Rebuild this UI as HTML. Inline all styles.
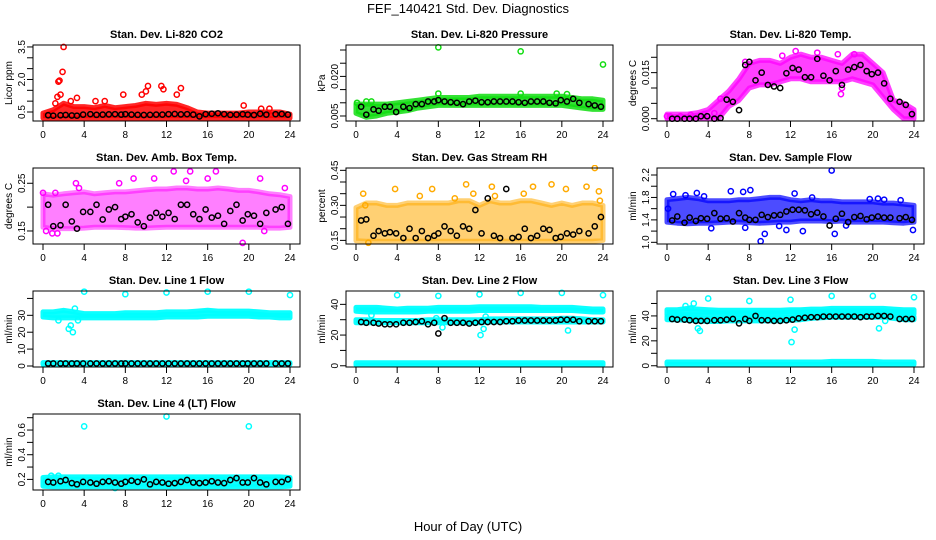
<!DOCTYPE html>
<html><head><meta charset="utf-8"><style>
html,body{margin:0;padding:0;background:#fff;}
svg{display:block;font-family:"Liberation Sans",sans-serif;}
</style></head><body>
<svg id="chart" width="936" height="540" viewBox="0 0 936 540">
<text x="468" y="13" text-anchor="middle" font-size="13">FEF_140421  Std. Dev. Diagnostics</text>
<text x="468" y="531" text-anchor="middle" font-size="13">Hour of Day (UTC)</text>
</svg>
<script>
const envHours=[0,1,2,3,4,5,6,7,8,9,10,11,12,13,14,15,16,17,18,19,20,21,22,23,24];
const blkHours=[0.5,1,1.7,2.2,2.8,3.3,3.9,4.6,5.2,5.8,6.4,7,7.6,8,8.6,9.2,9.8,10.4,11,11.6,12.2,12.8,13.4,14,14.6,15.2,15.8,16.4,17,17.6,18.2,18.8,19.4,19.9,20.5,21.1,21.7,22.6,23.2,23.8];
const xTicks=[0,4,8,12,16,20,24];

const co2Lo=[0.22,0.22,0.22,0.22,0.22,0.22,0.22,0.22,0.22,0.22,0.22,0.22,0.22,0.22,0.22,0.22,0.22,0.22,0.22,0.22,0.22,0.22,0.22,0.22,0.22];
const co2Hi=[0.45,0.6,0.9,0.75,0.75,0.7,0.8,0.7,0.75,0.8,0.9,0.85,0.9,0.85,0.7,0.5,0.45,0.45,0.45,0.45,0.5,0.5,0.5,0.5,0.4];
const co2OutX=[1.2,1.5,1.6,1.9,2.0,1.4,1.7,3.3,7.8,9.6,10.0,10.2,11.5,11.7,13.0,13.4,19.5,21.2,22.0,2.7,5.1,6.0];
const co2OutY=[0.9,1.9,1.95,2.35,3.5,1.2,1.3,1.15,1.3,1.3,1.45,1.7,1.7,1.55,1.3,1.6,0.8,0.65,0.65,1.0,1.0,1.0];
const co2Blk=[0.35,0.33,0.35,0.36,0.34,0.33,0.38,0.40,0.37,0.38,0.39,0.40,0.38,0.40,0.38,0.37,0.36,0.37,0.38,0.38,0.40,0.41,0.39,0.40,0.38,0.30,0.40,0.42,0.44,0.40,0.37,0.38,0.40,0.38,0.36,0.42,0.38,0.40,0.41,0.38];

const presLo=[0.006,0.0045,0.005,0.006,0.0065,0.007,0.008,0.0085,0.009,0.009,0.009,0.009,0.009,0.009,0.009,0.009,0.009,0.009,0.009,0.009,0.009,0.0085,0.008,0.0075,0.0075];
const presHi=[0.0095,0.0095,0.0095,0.0095,0.010,0.0105,0.011,0.0115,0.012,0.012,0.012,0.012,0.0125,0.0125,0.0125,0.0125,0.0125,0.0125,0.0125,0.0125,0.0125,0.012,0.0115,0.0115,0.011];
const presOutX=[8,16,24,0.1,1,1.5,8,16,19.5,20.5];
const presOutY=[0.031,0.0295,0.0245,0.010,0.0105,0.0105,0.0135,0.0135,0.0135,0.0133];
const presBlk=[0.0085,0.0055,0.0075,0.007,0.0085,0.0085,0.0065,0.0085,0.008,0.0095,0.0095,0.0105,0.0105,0.011,0.0105,0.0102,0.010,0.0095,0.0105,0.0108,0.0102,0.0102,0.0105,0.0105,0.0105,0.0105,0.0102,0.0100,0.0105,0.0105,0.0105,0.0100,0.0098,0.0110,0.0105,0.0115,0.0100,0.0095,0.0090,0.0085];

const tempLo=[0,0,0,0,0,0,0.004,0.006,0.010,0.011,0.011,0.012,0.013,0.013,0.012,0.012,0.012,0.012,0.013,0.012,0.011,0.007,0.003,0,0];
const tempHi=[0.0015,0.0015,0.0015,0.002,0.003,0.006,0.009,0.013,0.018,0.019,0.019,0.018,0.020,0.021,0.020,0.020,0.019,0.018,0.021,0.021,0.018,0.015,0.006,0.005,0.003];
const tempOutX=[0,0.3,1.3,2.3,3.6,4.6,5.2,11.2,12.5,14.6,16.6,18.2,17,16.9,7.6];
const tempOutY=[0.0008,0.0008,0.0008,0.0012,0.0015,0.0018,0.0065,0.0205,0.022,0.0215,0.021,0.021,0.0100,0.0080,0.0185];
const tempBlk=[0,0,0,0,0,0.0008,0.0008,0,0.0002,0.0062,0.0055,0.0028,0.0175,0.0185,0.0125,0.0150,0.0110,0.0105,0.0100,0.0148,0.0165,0.0160,0.0135,0.0135,0.0195,0.0140,0.0125,0.0155,0.0110,0.0160,0.0168,0.0175,0.0155,0.0145,0.0150,0.0115,0.0065,0.0055,0.0045,0.0015];

const ambLo=[0.158,0.155,0.155,0.155,0.156,0.158,0.158,0.158,0.157,0.156,0.156,0.157,0.158,0.158,0.158,0.158,0.158,0.158,0.158,0.158,0.158,0.158,0.156,0.156,0.158];
const ambHi=[0.228,0.225,0.228,0.230,0.232,0.228,0.230,0.232,0.232,0.234,0.236,0.238,0.238,0.240,0.240,0.238,0.238,0.240,0.238,0.235,0.235,0.232,0.228,0.226,0.222];
const ambOutX=[0,0.3,0.9,1.4,3.2,3.5,7.4,8.8,10.8,12.7,14.3,13.9,16,16.8,19.4,21.1,21.5,23.5,1.2];
const ambOutY=[0.23,0.15,0.145,0.145,0.25,0.24,0.25,0.26,0.26,0.275,0.275,0.255,0.26,0.275,0.125,0.26,0.15,0.24,0.23];
const ambBlk=[0.205,0.160,0.162,0.205,0.170,0.155,0.190,0.190,0.205,0.174,0.195,0.200,0.175,0.180,0.185,0.168,0.160,0.178,0.188,0.180,0.188,0.175,0.205,0.205,0.185,0.175,0.195,0.178,0.182,0.165,0.192,0.205,0.172,0.185,0.182,0.165,0.188,0.195,0.200,0.165];

const rhLo=[0.148,0.146,0.146,0.146,0.146,0.146,0.146,0.146,0.146,0.146,0.146,0.146,0.146,0.146,0.146,0.146,0.146,0.146,0.146,0.146,0.146,0.146,0.146,0.146,0.15];
const rhHi=[0.29,0.31,0.31,0.30,0.30,0.31,0.31,0.31,0.31,0.31,0.32,0.32,0.30,0.32,0.31,0.31,0.32,0.32,0.31,0.30,0.31,0.30,0.31,0.31,0.30];
const rhOutX=[0.7,1.2,3.8,6.2,7.4,9.6,10.7,11.4,13.2,13.5,16.3,17.2,19,20.4,22.4,23.2,23.6,23.7,0.9];
const rhOutY=[0.35,0.14,0.37,0.34,0.37,0.33,0.39,0.35,0.38,0.34,0.35,0.38,0.39,0.37,0.38,0.46,0.36,0.32,0.30];
const rhBlk=[0.235,0.24,0.17,0.19,0.18,0.185,0.18,0.16,0.20,0.16,0.19,0.16,0.17,0.18,0.21,0.19,0.17,0.21,0.20,0.28,0.18,0.33,0.17,0.16,0.37,0.16,0.165,0.20,0.16,0.17,0.20,0.195,0.16,0.165,0.18,0.175,0.19,0.18,0.21,0.25];

const flowLo=[1.36,1.34,1.33,1.34,1.34,1.35,1.36,1.36,1.35,1.34,1.35,1.36,1.36,1.38,1.38,1.38,1.37,1.38,1.36,1.36,1.36,1.36,1.35,1.34,1.36];
const flowHi=[1.76,1.78,1.80,1.78,1.74,1.74,1.74,1.76,1.76,1.78,1.80,1.80,1.76,1.74,1.76,1.74,1.74,1.72,1.72,1.72,1.72,1.70,1.70,1.68,1.66];
const flowOutX=[0.1,0.6,1.8,2.9,3.6,4.3,6.2,7.4,7.6,8.1,9.1,9.5,10.9,11.6,12.4,13.2,14.1,16,16.3,17.4,19.7,20.5,21.1,22.7,23.9];
const flowOutY=[1.6,1.86,1.84,1.88,1.82,1.25,1.91,1.9,1.26,1.93,1.02,1.15,1.29,1.22,1.87,1.2,1.8,2.28,1.15,1.3,1.77,1.78,1.76,1.75,1.22];
const flowBlk=[1.39,1.46,1.35,1.44,1.38,1.43,1.42,1.52,1.42,1.43,1.37,1.52,1.44,1.40,1.40,1.49,1.45,1.48,1.49,1.55,1.58,1.58,1.57,1.50,1.53,1.46,1.30,1.42,1.51,1.36,1.45,1.47,1.41,1.44,1.46,1.44,1.44,1.43,1.45,1.40];

const line1Lo=[29,28.5,28.5,28.5,28.5,28.5,28.5,28.5,28.5,28.5,28.5,28.5,29,29,29,29,29.5,29.5,29.5,29.5,29.5,29,29,28.5,28.5];
const line1Hi=[32,32,33,32,31,31,31,31,31.5,31.5,31.5,31.5,32,32,32,32.5,33,32.5,32.5,32.5,32.5,32,31.5,31.5,31.5];
const line1BotLo=[1,1,1,1,1,1,1,1,1,1,1,1,1,1,1,1,1,1,1,1,1,1,1,1,1];
const line1BotHi=[2,2,2,2,2,2,2,2,2,2,2,2,2,2,2,2,2,2,2,2,2,2,2,2,2];
const line1OutX=[4,8,12,16,20,24,2.5,2.7,2.9,3.1,3.4,1.5];
const line1OutY=[44,42.5,43.5,44,44,42,22,24,20,34,27,27];
const line1Blk=[1.5,1.5,1.5,1.5,1.5,1.5,1.5,1.5,1.5,1.5,1.5,1.5,1.5,1.5,1.5,1.5,1.5,1.5,1.5,1.5,1.5,1.5,1.5,1.5,1.5,1.5,1.5,1.5,1.5,1.5,1.5,1.5,1.5,1.5,1.5,1.5,1.5,1.5,1.5,1.5];

const line2Lo=[35.5,35,35,35,35,35,35,35.5,35.5,35.5,35.5,35.5,36,36,36,36,36,36,36,36,36,36,35.5,35,35];
const line2Hi=[38,38,38,37.5,37,37.5,37.5,37.5,38,38,38,38,38.5,38.5,38.5,38.5,38.5,38.5,38,38,38,38,37.5,37,37];
const line2MidLo=[28,28,28,28,28,28,28,28,28,28,28,28,28,28.5,28.5,28.5,28.5,28.5,28.5,28.5,28.5,28.5,28.5,28.5,28.5];
const line2MidHi=[30,30,29.5,29.5,29.5,29.5,29.5,30,30,30,30,30,30,30.5,30.5,30.5,30.5,30.5,30.5,30.5,31,31,30.5,30,30];
const line2BotLo=[0.5,0.5,0.5,0.5,0.5,0.5,0.5,0.5,0.5,0.5,0.5,0.5,0.5,0.5,0.5,0.5,0.5,0.5,0.5,0.5,0.5,0.5,0.5,0.5,0.5];
const line2BotHi=[2,2,2,2,2,2,2,2,2,2,2,2,2,2,2,2,2,2,2,2,2,2,2,2,2];
const line2OutX=[4,8,12,16,20,24,1.5,8.4,12.1,12.4,12.6,20.6,7.8];
const line2OutY=[46,45.5,46.5,47.5,47.5,46,33,25,20,24,32,23,31];
const line2Blk=[28.5,28,28,27.5,27,27,27,28,28,28.5,29,27,28,21,31,28,28,28,27.5,28,28.5,28.5,28.5,28.5,29,29,29.5,29.5,29.5,29.5,29.5,29.5,29.5,30,30,30,29,29,29,29];

const line3Lo=[41,41,41,41,41,41,41,41,41,41,41,41,41.5,41.5,42,42,42,42,42,42,42,42,42,41.5,41.5];
const line3Hi=[45,45,46,45.5,45,44.5,44.5,44.5,44.5,44.5,44.5,44.5,45,45,45.5,45.5,46,46,46,46,46,46,45.5,45,45];
const line3MidLo=[37,37,36.5,36,35.5,35.5,36,36,36,36,36,36,36.5,37,38,38.5,39,39,39,39,39,39,38,37,37];
const line3MidHi=[39.5,39.5,39,38.5,38,38,38.5,38.5,38.5,38.5,38.5,38.5,39,39.5,40,40.5,41,41,41,41,41,41,40,39.5,39.5];
const line3BotLo=[1,1,1,1,1,1,1,1,1,1,1,1,1,1,1,1,1,1,1,1,1,1,1,1,1];
const line3BotHi=[3,3,3,3,3,3,3,3,3,3,3,3,3,3,3,3,3.5,3.5,3.5,3.5,3.5,3,3,3,3];
const line3OutX=[4,8,12,16,20,24,3,3.2,2.6,12.1,12.4,20.6,21.2,1.8,2.3];
const line3OutY=[54,52,53,56,56,55,30,28,50,19,29,30,36,48,46];
const line3Blk=[37.5,37,37,36.5,36,36,36,36.5,36.5,37,37.5,34,37.5,36,40,36.5,36.5,36,36,36.5,37,38,38.5,39,39,39.5,39.5,39.5,39.5,39.5,39.5,39,39.5,39.5,40,40,39.5,37.5,37.5,37.5];

const line4Lo=[0.145,0.14,0.14,0.14,0.14,0.14,0.14,0.14,0.14,0.14,0.14,0.14,0.14,0.14,0.14,0.14,0.14,0.14,0.14,0.14,0.14,0.14,0.14,0.14,0.145];
const line4Hi=[0.215,0.22,0.22,0.22,0.22,0.22,0.22,0.22,0.22,0.22,0.22,0.22,0.22,0.22,0.22,0.22,0.22,0.22,0.22,0.22,0.22,0.22,0.22,0.22,0.215];
const line4OutX=[4,12,20,0.8,1.5,7];
const line4OutY=[0.63,0.71,0.63,0.23,0.23,0.13];
const line4Blk=[0.18,0.175,0.185,0.195,0.17,0.16,0.18,0.175,0.165,0.18,0.185,0.175,0.165,0.18,0.19,0.18,0.2,0.16,0.18,0.175,0.165,0.17,0.18,0.195,0.175,0.17,0.175,0.185,0.175,0.17,0.195,0.21,0.175,0.175,0.21,0.175,0.16,0.18,0.18,0.2];

const NS='http://www.w3.org/2000/svg';
const svg=document.getElementById('chart');
const colL=[33,346,657], rowT=[45,168,291,414], BW=267, BH=76;
function mk(tag,attrs,parent){const e=document.createElementNS(NS,tag);for(const k in attrs)e.setAttribute(k,attrs[k]);(parent||svg).appendChild(e);return e;}

const panels=[
 {id:'co2',title:'Stan. Dev. Li-820 CO2',ylab:'Licor ppm',c:0,r:0,ylo:0.085,yhi:3.59,ticks:[0.5,1,1.5,2,2.5,3,3.5],labels:[0.5,2.0,3.5],dec:1,col:'#ff0000',op:0.85,bands:[[co2Lo,co2Hi]],ox:co2OutX,oy:co2OutY,blk:co2Blk},
 {id:'pressure',title:'Stan. Dev. Li-820 Pressure',ylab:'kPa',c:1,r:0,ylo:0.0031,yhi:0.0319,ticks:[0.005,0.01,0.015,0.02,0.025,0.03],labels:[0.005,0.020],dec:3,col:'#11dd11',op:0.85,bands:[[presLo,presHi]],ox:presOutX,oy:presOutY,blk:presBlk},
 {id:'temp',title:'Stan. Dev. Li-820 Temp.',ylab:'degrees C',c:2,r:0,ylo:-0.00075,yhi:0.0240,ticks:[0,0.005,0.01,0.015,0.02],labels:[0,0.015],dec:3,col:'#ff00ff',op:0.75,bands:[[tempLo,tempHi]],ox:tempOutX,oy:tempOutY,blk:tempBlk},
 {id:'amb-box',title:'Stan. Dev. Amb. Box Temp.',ylab:'degrees C',c:0,r:1,ylo:0.1227,yhi:0.282,ticks:[0.15,0.2,0.25],labels:[0.15,0.25],dec:2,col:'#ff00ff',op:0.5,bands:[[ambLo,ambHi]],ox:ambOutX,oy:ambOutY,blk:ambBlk},
 {id:'rh',title:'Stan. Dev. Gas Stream RH',ylab:'percent',c:1,r:1,ylo:0.1345,yhi:0.46,ticks:[0.15,0.2,0.25,0.3,0.35,0.4,0.45],labels:[0.15,0.30,0.45],dec:2,col:'#ffaa00',op:0.55,bands:[[rhLo,rhHi]],ox:rhOutX,oy:rhOutY,blk:rhBlk},
 {id:'sample-flow',title:'Stan. Dev. Sample Flow',ylab:'ml/min',c:2,r:1,ylo:0.97,yhi:2.325,ticks:[1,1.2,1.4,1.6,1.8,2,2.2],labels:[1.0,1.4,1.8,2.2],dec:1,col:'#0000ff',op:0.7,bands:[[flowLo,flowHi]],ox:flowOutX,oy:flowOutY,blk:flowBlk},
 {id:'line1',title:'Stan. Dev. Line 1 Flow',ylab:'ml/min',c:0,r:2,ylo:-0.6,yhi:44.4,ticks:[0,10,20,30,40],labels:[0,10,20,30],dec:0,col:'#00ffff',op:0.95,bands:[[line1Lo,line1Hi],[line1BotLo,line1BotHi]],ox:line1OutX,oy:line1OutY,blk:line1Blk},
 {id:'line2',title:'Stan. Dev. Line 2 Flow',ylab:'ml/min',c:1,r:2,ylo:-0.8,yhi:48.7,ticks:[0,10,20,30,40],labels:[0,20,40],dec:0,col:'#00ffff',op:0.95,bands:[[line2Lo,line2Hi],[line2MidLo,line2MidHi],[line2BotLo,line2BotHi]],ox:line2OutX,oy:line2OutY,blk:line2Blk},
 {id:'line3',title:'Stan. Dev. Line 3 Flow',ylab:'ml/min',c:2,r:2,ylo:-1,yhi:60,ticks:[0,10,20,30,40,50],labels:[0,20,40],dec:0,col:'#00ffff',op:0.95,bands:[[line3Lo,line3Hi],[line3MidLo,line3MidHi],[line3BotLo,line3BotHi]],ox:line3OutX,oy:line3OutY,blk:line3Blk},
 {id:'line4',title:'Stan. Dev. Line 4 (LT) Flow',ylab:'ml/min',c:0,r:3,ylo:0.114,yhi:0.73,ticks:[0.2,0.3,0.4,0.5,0.6,0.7],labels:[0.2,0.4,0.6],dec:1,col:'#00ffff',op:0.95,bands:[[line4Lo,line4Hi]],ox:line4OutX,oy:line4OutY,blk:line4Blk}
];

panels.forEach(p=>{
  const L=colL[p.c], T=rowT[p.r];
  const xs=h=>L+10+h/24*247;
  const ys=v=>T+(p.yhi-v)/(p.yhi-p.ylo)*BH;
  const g=mk('g',{});
  
  
  const cp=mk('clipPath',{id:'cp-'+p.id},g); mk('rect',{x:L-3,y:T-3,width:BW+6,height:BH+6},cp);
  const t=mk('text',{x:L+BW/2,y:T-7,'text-anchor':'middle','font-size':'11','font-weight':'bold'},g); t.textContent=p.title;
  
  
  const yl=mk('text',{x:0,y:0,'text-anchor':'middle','font-size':'10',transform:`translate(${L-21},${T+BH/2}) rotate(-90)`},g); yl.textContent=p.ylab;
  
  
  const dg=mk('g',{'clip-path':`url(#cp-${p.id})`},g);
  p.bands.forEach(b=>{
    let d='';
    envHours.forEach((h,i)=>{d+=(i?'L':'M')+xs(h).toFixed(1)+','+ys(b[1][i]).toFixed(1);});
    for(let i=envHours.length-1;i>=0;i--) d+='L'+xs(envHours[i]).toFixed(1)+','+ys(b[0][i]).toFixed(1);
    const pa=mk('path',{d:d+'Z',fill:p.col,stroke:p.col,'stroke-width':5,'stroke-linejoin':'round','fill-opacity':p.op,'stroke-opacity':p.op},dg);
    
    
  });
  p.ox.forEach((h,i)=>{
    const c=mk('circle',{cx:xs(h),cy:ys(p.oy[i]),r:2.6,fill:'none',stroke:p.col,'stroke-width':1.5},dg);
    
    
  });
  blkHours.forEach((h,i)=>{
    const c=mk('circle',{cx:xs(h),cy:ys(p.blk[i]),r:2.6,fill:'none',stroke:'#000','stroke-width':1.5},dg);
    
    
  });
  const bx=mk('rect',{x:L,y:T,width:BW,height:BH,fill:'none',stroke:'#000','stroke-width':1},g);
  
  
  xTicks.forEach(v=>{
    const x=xs(v);
    mk('line',{x1:x,x2:x,y1:T+BH,y2:T+BH+6,stroke:'#000'},g);
    const tl=mk('text',{x:x,y:T+BH+17,'text-anchor':'middle','font-size':'10'},g); tl.textContent=v;
    
    
  });
  p.ticks.forEach(v=>{
    const y=ys(v);
    mk('line',{x1:L-6,x2:L,y1:y,y2:y,stroke:'#000'},g);
  });
  p.labels.forEach(v=>{
    const tl=mk('text',{x:0,y:0,'text-anchor':'middle','font-size':'10',transform:`translate(${L-8},${ys(v)}) rotate(-90)`},g);
    tl.textContent=Number(v).toFixed(p.dec);
    
    
  });
});
</script>
</body></html>
